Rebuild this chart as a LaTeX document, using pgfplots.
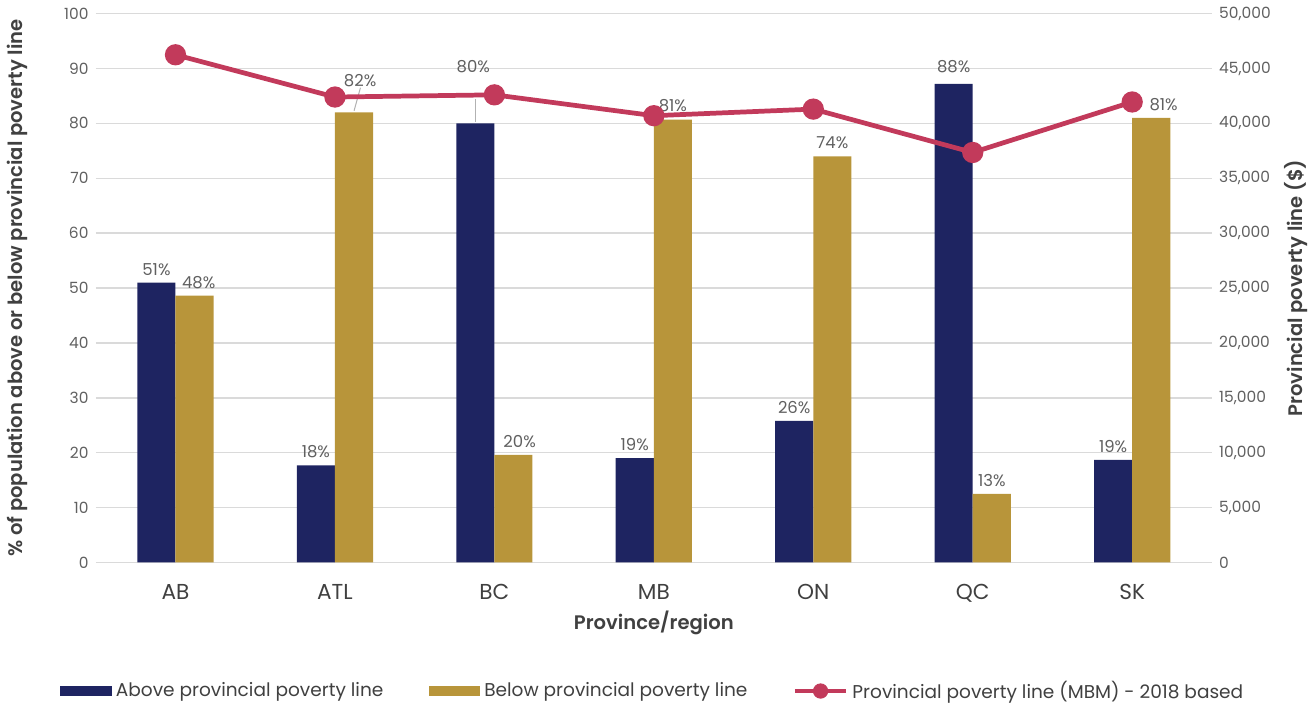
\documentclass[border=0pt]{standalone}
\usepackage{pgfplots}
\pgfplotsset{compat=1.18}
\usepackage{pgfplotstable}
\usepackage{fontspec}
\setmainfont{Poppins}
\newfontfamily\pmed{Poppins SemiBold}

\definecolor{navy}{HTML}{1E2461}
\definecolor{gold}{HTML}{B8953A}
\definecolor{crim}{HTML}{C23A5B}
\definecolor{txt}{HTML}{606060}
\definecolor{lbl}{HTML}{404040}
\definecolor{gridc}{HTML}{DADADA}

% share above / below the provincial poverty line (%)
\pgfplotstableread{
x  y     lab dx dy
0  51    51  0  0
1  17.7  18  0  0
2  80    80  -1 21
3  19    19  0  0
4  25.8  26  0  0
5  87.2  88  0  2
6  18.7  19  0  0
}\above
\pgfplotstableread{
x  y     lab dx dy
0  48.6  48  2  0
1  82    82  3  9
2  19.6  20  3  0
3  80.7  81  0  0
4  74    74  0  0
5  12.5  13  0  0
6  81    81  6  0
}\below
% poverty line (MBM, 2018 base), $
\pgfplotstableread{
x  y
0  46250
1  42400
2  42600
3  40700
4  41300
5  37350
6  41950
}\line

\pgfplotsset{
  common/.style={
    scale only axis, width=542pt, height=266.5pt,
    xmin=-0.5, xmax=6.5,
    tick style={draw=none},
    tick label style={text=txt, font=\fontsize{7.5}{9}\selectfont,
      /pgf/number format/assume math mode=true},
  },
  pct/.style={
    nodes near coords={\pgfplotspointmeta\%},
    point meta=explicit symbolic,
    visualization depends on={\thisrow{dy} \as \dy},
    visualization depends on={\thisrow{dx} \as \dx},
    every node near coord/.append style={text=txt,
      font=\fontsize{8}{9}\selectfont, yshift=\dy pt, xshift=\dx pt},
  },
}

\begin{document}
\begin{tikzpicture}
\begin{axis}[
  common,
  ymin=0, ymax=100, ytick={0,10,...,100},
  xtick={0,...,6}, xticklabels={AB,ATL,BC,MB,ON,QC,SK},
  xticklabel style={font=\fontsize{10.5}{12}\selectfont, text=lbl, yshift=-3pt},
  ymajorgrids, grid style={gridc, line width=0.7pt},
  axis x line*=bottom, axis y line*=left,
  x axis line style={gridc, line width=0.7pt},
  y axis line style={draw=none},
  ybar=0pt, bar width=18.5pt,
  xlabel={Province/region},
  xlabel style={font=\fontsize{9.5}{11}\selectfont\pmed, text=lbl, yshift=3pt},
  ylabel={\% of population above or below provincial poverty line},
  ylabel style={font=\fontsize{9.5}{11}\selectfont\pmed, text=lbl, yshift=11pt},
  legend style={at={(0.5,-0.2)}, anchor=north, draw=none, legend columns=3,
    font=\fontsize{9}{11}\selectfont, text=lbl,
    /tikz/every even column/.append style={column sep=20pt}},
  legend image code/.code={\fill[#1] (0pt,-2.5pt) rectangle (25pt,2.5pt);},
]
\addplot[fill=navy, draw=none, pct] table[x=x, y=y, meta=lab] {\above};
\addlegendentry{Above provincial poverty line}
\addplot[fill=gold, draw=none, pct] table[x=x, y=y, meta=lab] {\below};
\addlegendentry{Below provincial poverty line}
\addlegendimage{legend image code/.code={
  \draw[crim, line width=2pt] (0pt,0pt) -- (25pt,0pt);
  \fill[crim] (12.5pt,0pt) circle (3.5pt);}}
\addlegendentry{Provincial poverty line (MBM) - 2018 based}
\draw[gray!60, line width=0.5pt] (axis cs:1.12,82.3) -- (axis cs:1.16,86.5);
\draw[gray!60, line width=0.5pt] (axis cs:1.88,80.3) -- (axis cs:1.88,84.5);
\end{axis}
\begin{axis}[
  common,
  ymin=0, ymax=50000, ytick={0,5000,...,50000},
  scaled y ticks=false,
  yticklabel style={/pgf/number format/.cd, fixed, 1000 sep={,}},
  axis x line=none, axis y line*=right,
  y axis line style={draw=none},
  ylabel={Provincial poverty line (\$)},
  ylabel style={font=\fontsize{9.5}{11}\selectfont\pmed, text=lbl},
]
\addplot[crim, line width=2.3pt, mark=*, mark size=4pt,
  mark options={fill=crim, draw=crim}] table[x=x, y=y] {\line};
\end{axis}
\end{tikzpicture}
\end{document}
